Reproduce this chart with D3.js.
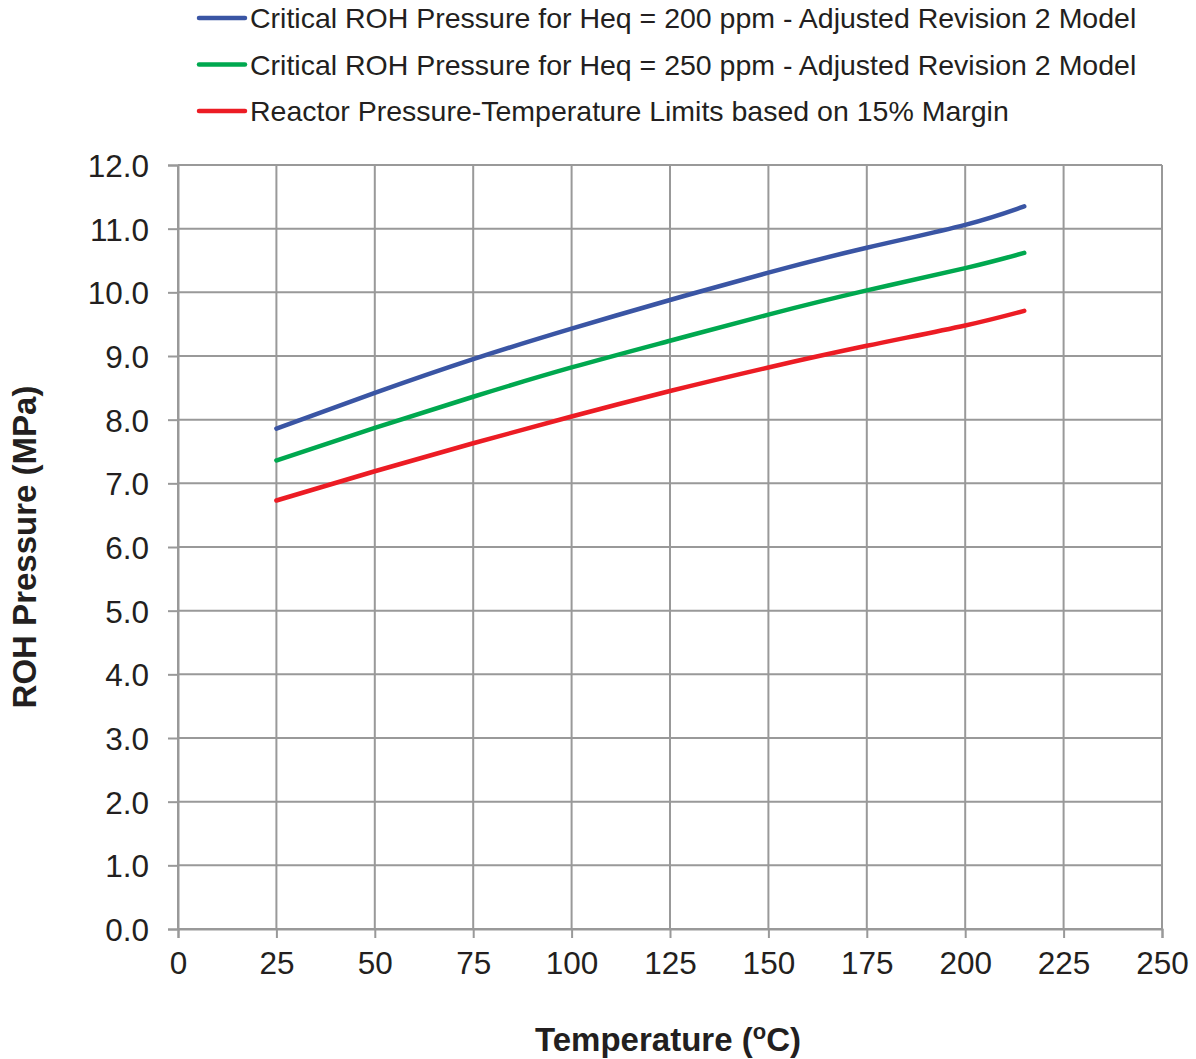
<!DOCTYPE html>
<html>
<head>
<meta charset="utf-8">
<script src="https://cdn.jsdelivr.net/npm/d3@7/dist/d3.min.js"></script>
<style>
  html, body { margin: 0; padding: 0; background: #fff; }
  svg { display: block; font-family: "Liberation Sans", Arial, sans-serif; }
</style>
</head>
<body>
<svg id="chart" width="1196" height="1059"></svg>
<script>
// Temperature (°C) sample points
const temps = [25, 50, 75, 100, 125, 150, 175, 200, 215];

// Critical ROH pressure, Heq = 200 ppm (MPa)
const heq200 = [7.86, 8.42, 8.95, 9.43, 9.88, 10.31, 10.70, 11.06, 11.35];
// Critical ROH pressure, Heq = 250 ppm (MPa)
const heq250 = [7.36, 7.87, 8.36, 8.82, 9.24, 9.65, 10.03, 10.38, 10.62];
// Reactor P-T limits, 15% margin (MPa)
const ptLimits = [6.73, 7.19, 7.63, 8.05, 8.45, 8.82, 9.16, 9.48, 9.71];

const seriesNames = [
  "Critical ROH Pressure for Heq = 200 ppm - Adjusted Revision 2 Model",
  "Critical ROH Pressure for Heq = 250 ppm - Adjusted Revision 2 Model",
  "Reactor Pressure-Temperature Limits based on 15% Margin"
];
const seriesColors = ["#3a55a4", "#00a84f", "#ec1c24"];

const xTicks = [0, 25, 50, 75, 100, 125, 150, 175, 200, 225, 250];
const yTicks = [0, 1, 2, 3, 4, 5, 6, 7, 8, 9, 10, 11, 12];

const svg = d3.select("#chart");
const m = { left: 178, right: 1162, top: 165, bottom: 929 };

const x = d3.scaleLinear().domain([0, 250]).range([m.left, m.right]);
const y = d3.scaleLinear().domain([0, 12]).range([m.bottom, m.top]);

const gridColor = "#999999";
const textColor = "#231f20";

// Gridlines
const grid = svg.append("g");
grid.selectAll("line.v").data(xTicks).join("line")
  .attr("x1", d => x(d)).attr("x2", d => x(d))
  .attr("y1", m.top).attr("y2", m.bottom)
  .attr("stroke", gridColor).attr("stroke-width", 2);
grid.selectAll("line.h").data(yTicks).join("line")
  .attr("x1", m.left).attr("x2", m.right)
  .attr("y1", d => y(d)).attr("y2", d => y(d))
  .attr("stroke", gridColor).attr("stroke-width", 2);

// Axes
const xAxis = svg.append("g").attr("transform", `translate(0,${m.bottom})`)
  .call(d3.axisBottom(x).tickValues(xTicks).tickSize(9).tickPadding(14).tickFormat(d3.format("d")));
const yAxis = svg.append("g").attr("transform", `translate(${m.left},0)`)
  .call(d3.axisLeft(y).tickValues(yTicks).tickSize(10).tickPadding(19).tickFormat(d3.format(".1f")));

[xAxis, yAxis].forEach(g => {
  g.select(".domain").attr("stroke", gridColor).attr("stroke-width", 2);
  g.selectAll(".tick line").attr("stroke", gridColor).attr("stroke-width", 2);
  g.selectAll(".tick text")
    .attr("fill", textColor)
    .style("font-size", "31.5px")
    .style("font-family", "'Liberation Sans', Arial, sans-serif");
});
xAxis.selectAll(".tick text").attr("dy", "0.71em");
yAxis.selectAll(".tick text").attr("dy", "0.36em");

// Series lines
const line = d3.line()
  .x((d, i) => x(temps[i]))
  .y(d => y(d))
  .curve(d3.curveNatural);

[heq200, heq250, ptLimits].forEach((vals, k) => {
  svg.append("path")
    .datum(vals)
    .attr("d", line)
    .attr("fill", "none")
    .attr("stroke", seriesColors[k])
    .attr("stroke-width", 4.5)
    .attr("stroke-linecap", "round");
});

// Legend
const legend = svg.append("g");
seriesNames.forEach((name, k) => {
  const ly = 18 + k * 46.5;
  legend.append("line")
    .attr("x1", 199).attr("x2", 245)
    .attr("y1", ly).attr("y2", ly)
    .attr("stroke", seriesColors[k]).attr("stroke-width", 4.5)
    .attr("stroke-linecap", "round");
  legend.append("text")
    .attr("x", 250).attr("y", ly)
    .attr("dy", "0.36em")
    .attr("fill", textColor)
    .style("font-size", "28.5px")
    .text(name);
});

// Axis titles
svg.append("text")
  .attr("x", 668).attr("y", 1051)
  .attr("text-anchor", "middle")
  .attr("fill", textColor)
  .style("font-size", "33px").style("font-weight", "bold")
  .call(t => {
    t.append("tspan").text("Temperature (");
    t.append("tspan").attr("dy", -12).style("font-size", "22px").text("o");
    t.append("tspan").attr("dy", 12).text("C)");
  });

svg.append("text")
  .attr("transform", "translate(36,547) rotate(-90)")
  .attr("text-anchor", "middle")
  .attr("fill", textColor)
  .style("font-size", "33px").style("font-weight", "bold")
  .text("ROH Pressure (MPa)");
</script>
</body>
</html>
